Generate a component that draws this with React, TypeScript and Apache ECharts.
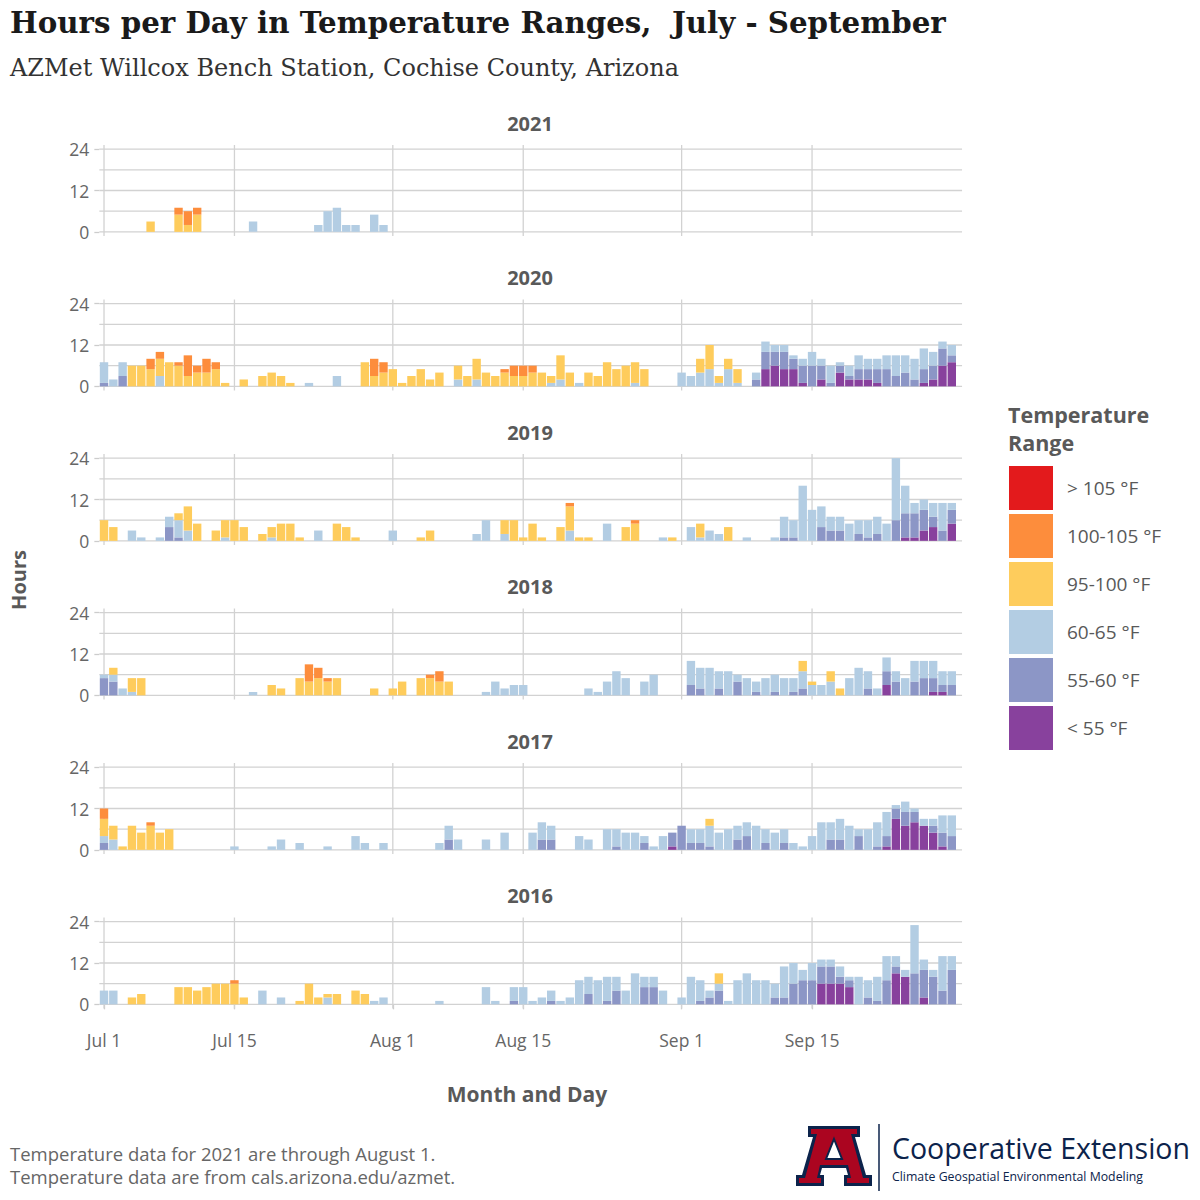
import { useEffect, useRef } from 'react';
import * as echarts from 'echarts';

// stacking order, bottom to top
const CATEGORIES = ['< 55 °F', '55-60 °F', '60-65 °F', '95-100 °F', '100-105 °F', '> 105 °F'];
const COLORS = ['#88419D', '#8C96C6', '#B3CDE3', '#FECC5C', '#FD8D3C', '#E31A1C'];

const YEARS = [2021, 2020, 2019, 2018, 2017, 2016];
const DAY_COUNT = 92; // Jul 1 .. Sep 30

const TICK_DAYS = [0, 14, 31, 45, 62, 76];
const TICK_LABELS = ['Jul 1', 'Jul 15', 'Aug 1', 'Aug 15', 'Sep 1', 'Sep 15'];
const HOUR_GRID = [0, 6, 12, 18, 24];
const HOUR_LABELS = [0, 12, 24];

// [day index, <55, 55-60, 60-65, 95-100, 100-105]
const rows2021 = [
  [5, 0, 0, 0, 3, 0], [8, 0, 0, 0, 5, 2], [9, 0, 0, 0, 2, 4], [10, 0, 0, 0, 5, 2],
  [16, 0, 0, 3, 0, 0], [23, 0, 0, 2, 0, 0], [24, 0, 0, 6, 0, 0], [25, 0, 0, 7, 0, 0],
  [26, 0, 0, 2, 0, 0], [27, 0, 0, 2, 0, 0], [29, 0, 0, 5, 0, 0], [30, 0, 0, 2, 0, 0],
];

const rows2020 = [
  [0, 0, 1, 6, 0, 0], [1, 0, 0, 2, 0, 0], [2, 0, 3, 4, 0, 0], [3, 0, 0, 0, 6, 0],
  [4, 0, 0, 0, 6, 0], [5, 0, 0, 0, 5, 3], [6, 0, 0, 3, 5, 2], [7, 0, 0, 0, 7, 0],
  [8, 0, 0, 0, 6, 1], [9, 0, 0, 0, 3, 6], [10, 0, 0, 0, 4, 2], [11, 0, 0, 0, 4, 4],
  [12, 0, 0, 0, 5, 2], [13, 0, 0, 0, 1, 0], [15, 0, 0, 0, 2, 0], [17, 0, 0, 0, 3, 0],
  [18, 0, 0, 0, 4, 0], [19, 0, 0, 0, 3, 0], [20, 0, 0, 0, 1, 0], [22, 0, 0, 1, 0, 0],
  [25, 0, 0, 3, 0, 0], [28, 0, 0, 0, 7, 0], [29, 0, 0, 0, 3, 5], [30, 0, 0, 0, 4, 3],
  [31, 0, 0, 0, 5, 0], [32, 0, 0, 0, 1, 0], [33, 0, 0, 0, 3, 0], [34, 0, 0, 0, 5, 0],
  [35, 0, 0, 0, 2, 0], [36, 0, 0, 0, 4, 0], [38, 0, 0, 2, 4, 0], [39, 0, 0, 0, 3, 0],
  [40, 0, 0, 2, 6, 0], [41, 0, 0, 0, 4, 0], [42, 0, 0, 0, 3, 0], [43, 0, 0, 0, 4, 1],
  [44, 0, 0, 0, 3, 3], [45, 0, 0, 0, 3, 3], [46, 0, 0, 0, 4, 2], [47, 0, 0, 0, 4, 0],
  [48, 0, 0, 1, 2, 0], [49, 0, 0, 2, 7, 0], [50, 0, 0, 0, 4, 0], [51, 0, 0, 1, 0, 0],
  [52, 0, 0, 0, 4, 0], [53, 0, 0, 0, 3, 0], [54, 0, 0, 0, 7, 0], [55, 0, 0, 0, 5, 0],
  [56, 0, 0, 0, 6, 0], [57, 0, 0, 1, 6, 0], [58, 0, 0, 0, 5, 0], [62, 0, 0, 4, 0, 0],
  [63, 0, 0, 3, 0, 0], [64, 0, 0, 4, 4, 0], [65, 0, 0, 5, 7, 0], [66, 0, 0, 1, 2, 0],
  [67, 0, 0, 5, 3, 0], [68, 0, 0, 1, 4, 0], [70, 0, 2, 2, 0, 0], [71, 5, 5, 3, 0, 0],
  [72, 6, 4, 2, 0, 0], [73, 5, 5, 2, 0, 0], [74, 5, 3, 1, 0, 0], [75, 1, 5, 2, 0, 0],
  [76, 0, 6, 4, 0, 0], [77, 2, 4, 2, 0, 0], [78, 0, 1, 5, 0, 0], [79, 4, 2, 1, 0, 0],
  [80, 2, 1, 3, 0, 0], [81, 2, 3, 4, 0, 0], [82, 2, 3, 3, 0, 0], [83, 1, 4, 3, 0, 0],
  [84, 0, 5, 4, 0, 0], [85, 0, 3, 6, 0, 0], [86, 0, 4, 5, 0, 0], [87, 0, 2, 6, 0, 0],
  [88, 1, 4, 6, 0, 0], [89, 2, 4, 4, 0, 0], [90, 6, 5, 2, 0, 0], [91, 7, 2, 3, 0, 0],
];

const rows2019 = [
  [0, 0, 0, 0, 6, 0], [1, 0, 0, 0, 4, 0], [3, 0, 0, 3, 0, 0], [4, 0, 0, 1, 0, 0],
  [6, 0, 0, 1, 0, 0], [7, 0, 4, 3, 0, 0], [8, 0, 1, 5, 2, 0], [9, 0, 0, 3, 7, 0],
  [10, 0, 0, 0, 5, 0], [12, 0, 0, 0, 3, 0], [13, 0, 0, 1, 5, 0], [14, 0, 0, 0, 6, 0],
  [15, 0, 0, 0, 4, 0], [17, 0, 0, 0, 2, 0], [18, 0, 0, 1, 3, 0], [19, 0, 0, 0, 5, 0],
  [20, 0, 0, 0, 5, 0], [21, 0, 0, 0, 1, 0], [23, 0, 0, 3, 0, 0], [25, 0, 0, 0, 5, 0],
  [26, 0, 0, 0, 4, 0], [27, 0, 0, 0, 1, 0], [31, 0, 0, 3, 0, 0], [34, 0, 0, 0, 1, 0],
  [35, 0, 0, 0, 3, 0], [40, 0, 0, 2, 0, 0], [41, 0, 0, 6, 0, 0], [43, 0, 0, 2, 4, 0],
  [44, 0, 0, 0, 6, 0], [45, 0, 0, 0, 1, 0], [46, 0, 0, 0, 5, 0], [47, 0, 0, 0, 1, 0],
  [49, 0, 0, 0, 4, 0], [50, 0, 0, 3, 7, 1], [51, 0, 0, 0, 1, 0], [52, 0, 0, 0, 1, 0],
  [54, 0, 0, 5, 0, 0], [56, 0, 0, 0, 4, 0], [57, 0, 0, 0, 5, 1], [60, 0, 0, 1, 0, 0],
  [61, 0, 0, 0, 1, 0], [63, 0, 0, 4, 0, 0], [64, 0, 0, 1, 4, 0], [65, 0, 0, 3, 0, 0],
  [66, 0, 0, 2, 0, 0], [67, 0, 0, 0, 4, 0], [69, 0, 0, 1, 0, 0], [72, 0, 0, 1, 0, 0],
  [73, 0, 1, 6, 0, 0], [74, 0, 1, 5, 0, 0], [75, 0, 0, 16, 0, 0], [76, 0, 0, 9, 0, 0],
  [77, 0, 4, 6, 0, 0], [78, 0, 3, 4, 0, 0], [79, 0, 3, 4, 0, 0], [80, 0, 0, 5, 0, 0],
  [81, 0, 2, 4, 0, 0], [82, 0, 1, 5, 0, 0], [83, 0, 2, 5, 0, 0], [84, 0, 0, 5, 0, 0],
  [85, 0, 6, 18, 0, 0], [86, 1, 7, 8, 0, 0], [87, 1, 7, 3, 0, 0], [88, 3, 6, 3, 0, 0],
  [89, 4, 3, 4, 0, 0], [90, 0, 3, 8, 0, 0], [91, 5, 4, 2, 0, 0],
];

const rows2018 = [
  [0, 0, 5, 1, 0, 0], [1, 0, 4, 2, 2, 0], [2, 0, 0, 2, 0, 0], [3, 0, 0, 1, 4, 0],
  [4, 0, 0, 0, 5, 0], [16, 0, 0, 1, 0, 0], [18, 0, 0, 0, 3, 0], [19, 0, 0, 0, 2, 0],
  [21, 0, 0, 0, 5, 0], [22, 0, 0, 0, 4, 5], [23, 0, 0, 0, 5, 3], [24, 0, 0, 0, 4, 1],
  [25, 0, 0, 0, 5, 0], [29, 0, 0, 0, 2, 0], [31, 0, 0, 0, 2, 0], [32, 0, 0, 0, 4, 0],
  [34, 0, 0, 0, 5, 0], [35, 0, 0, 0, 5, 1], [36, 0, 0, 0, 4, 3], [37, 0, 0, 0, 4, 0],
  [41, 0, 0, 1, 0, 0], [42, 0, 0, 4, 0, 0], [43, 0, 0, 2, 0, 0], [44, 0, 0, 3, 0, 0],
  [45, 0, 0, 3, 0, 0], [52, 0, 0, 2, 0, 0], [53, 0, 0, 1, 0, 0], [54, 0, 0, 4, 0, 0],
  [55, 0, 0, 7, 0, 0], [56, 0, 0, 5, 0, 0], [58, 0, 0, 4, 0, 0], [59, 0, 0, 6, 0, 0],
  [63, 0, 3, 7, 0, 0], [64, 0, 2, 6, 0, 0], [65, 0, 0, 8, 0, 0], [66, 0, 2, 5, 0, 0],
  [67, 0, 0, 7, 0, 0], [68, 0, 4, 2, 0, 0], [69, 0, 0, 5, 0, 0], [70, 0, 1, 3, 0, 0],
  [71, 0, 0, 5, 0, 0], [72, 0, 1, 5, 0, 0], [73, 0, 0, 5, 0, 0], [74, 0, 1, 4, 0, 0],
  [75, 0, 2, 5, 3, 0], [76, 0, 0, 3, 1, 0], [77, 0, 0, 3, 0, 0], [78, 0, 0, 4, 3, 0],
  [79, 0, 0, 0, 2, 0], [80, 0, 0, 5, 0, 0], [81, 0, 0, 8, 0, 0], [82, 0, 2, 5, 0, 0],
  [83, 0, 0, 2, 0, 0], [84, 3, 4, 4, 0, 0], [85, 0, 4, 3, 0, 0], [86, 0, 0, 5, 0, 0],
  [87, 0, 4, 6, 0, 0], [88, 0, 5, 5, 0, 0], [89, 1, 4, 5, 0, 0], [90, 1, 2, 4, 0, 0],
  [91, 0, 3, 4, 0, 0],
];

const rows2017 = [
  [0, 0, 2, 2, 5, 3], [1, 0, 0, 3, 4, 0], [2, 0, 0, 0, 1, 0], [3, 0, 0, 0, 7, 0],
  [4, 0, 0, 0, 5, 0], [5, 0, 0, 0, 7, 1], [6, 0, 0, 0, 5, 0], [7, 0, 0, 0, 6, 0],
  [14, 0, 0, 1, 0, 0], [18, 0, 0, 1, 0, 0], [19, 0, 0, 3, 0, 0], [21, 0, 0, 2, 0, 0],
  [24, 0, 0, 1, 0, 0], [27, 0, 0, 4, 0, 0], [28, 0, 0, 2, 0, 0], [30, 0, 0, 2, 0, 0],
  [36, 0, 0, 2, 0, 0], [37, 0, 3, 4, 0, 0], [38, 0, 0, 3, 0, 0], [41, 0, 0, 3, 0, 0],
  [43, 0, 0, 5, 0, 0], [46, 0, 0, 5, 0, 0], [47, 0, 3, 5, 0, 0], [48, 0, 3, 4, 0, 0],
  [51, 0, 0, 4, 0, 0], [52, 0, 0, 3, 0, 0], [54, 0, 0, 6, 0, 0], [55, 0, 1, 5, 0, 0],
  [56, 0, 0, 5, 0, 0], [57, 0, 0, 5, 0, 0], [58, 0, 2, 2, 0, 0], [59, 0, 0, 1, 0, 0],
  [60, 0, 0, 4, 0, 0], [61, 1, 4, 0, 0, 0], [62, 0, 7, 0, 0, 0], [63, 0, 2, 4, 0, 0],
  [64, 0, 2, 4, 0, 0], [65, 0, 1, 6, 2, 0], [66, 0, 0, 5, 0, 0], [67, 0, 0, 6, 0, 0],
  [68, 0, 3, 4, 0, 0], [69, 0, 4, 4, 0, 0], [70, 0, 0, 7, 0, 0], [71, 0, 2, 4, 0, 0],
  [72, 0, 0, 5, 0, 0], [73, 0, 2, 4, 0, 0], [74, 0, 0, 2, 0, 0], [75, 0, 0, 1, 0, 0],
  [76, 0, 0, 4, 0, 0], [77, 0, 0, 8, 0, 0], [78, 0, 3, 5, 0, 0], [79, 0, 3, 6, 0, 0],
  [80, 0, 0, 7, 0, 0], [81, 0, 4, 2, 0, 0], [82, 0, 0, 6, 0, 0], [83, 0, 1, 7, 0, 0],
  [84, 1, 3, 7, 0, 0], [85, 9, 3, 1, 0, 0], [86, 7, 4, 3, 0, 0], [87, 8, 3, 1, 0, 0],
  [88, 7, 0, 2, 0, 0], [89, 5, 2, 2, 0, 0], [90, 1, 4, 5, 0, 0], [91, 0, 4, 6, 0, 0],
];

const rows2016 = [
  [0, 0, 0, 4, 0, 0], [1, 0, 0, 4, 0, 0], [3, 0, 0, 0, 2, 0], [4, 0, 0, 0, 3, 0],
  [8, 0, 0, 0, 5, 0], [9, 0, 0, 0, 5, 0], [10, 0, 0, 0, 4, 0], [11, 0, 0, 0, 5, 0],
  [12, 0, 0, 0, 6, 0], [13, 0, 0, 0, 6, 0], [14, 0, 0, 0, 6, 1], [15, 0, 0, 0, 2, 0],
  [17, 0, 0, 4, 0, 0], [19, 0, 0, 2, 0, 0], [21, 0, 0, 0, 1, 0], [22, 0, 0, 0, 6, 0],
  [23, 0, 0, 0, 2, 0], [24, 0, 0, 2, 1, 0], [25, 0, 0, 0, 3, 0], [27, 0, 0, 0, 4, 0],
  [28, 0, 0, 0, 3, 0], [29, 0, 0, 1, 0, 0], [30, 0, 0, 2, 0, 0], [36, 0, 0, 1, 0, 0],
  [41, 0, 0, 5, 0, 0], [42, 0, 0, 1, 0, 0], [44, 0, 1, 4, 0, 0], [45, 0, 0, 5, 0, 0],
  [46, 0, 0, 1, 0, 0], [47, 0, 0, 2, 0, 0], [48, 0, 1, 3, 0, 0], [49, 0, 0, 1, 0, 0],
  [50, 0, 0, 2, 0, 0], [51, 0, 0, 7, 0, 0], [52, 0, 3, 5, 0, 0], [53, 0, 0, 7, 0, 0],
  [54, 0, 1, 7, 0, 0], [55, 0, 4, 4, 0, 0], [56, 0, 0, 4, 0, 0], [57, 0, 0, 9, 0, 0],
  [58, 0, 5, 3, 0, 0], [59, 0, 5, 3, 0, 0], [60, 0, 0, 4, 0, 0], [62, 0, 0, 2, 0, 0],
  [63, 0, 0, 8, 0, 0], [64, 0, 1, 6, 0, 0], [65, 0, 2, 2, 0, 0], [66, 0, 4, 2, 3, 0],
  [67, 0, 0, 1, 0, 0], [68, 0, 0, 7, 0, 0], [69, 0, 0, 9, 0, 0], [70, 0, 0, 7, 0, 0],
  [71, 0, 0, 7, 0, 0], [72, 0, 2, 4, 0, 0], [73, 0, 2, 9, 0, 0], [74, 0, 6, 6, 0, 0],
  [75, 0, 7, 3, 0, 0], [76, 0, 7, 5, 0, 0], [77, 6, 5, 2, 0, 0], [78, 6, 5, 2, 0, 0],
  [79, 6, 2, 3, 0, 0], [80, 5, 2, 1, 0, 0], [81, 0, 0, 8, 0, 0], [82, 0, 2, 5, 0, 0],
  [83, 0, 1, 7, 0, 0], [84, 0, 7, 7, 0, 0], [85, 9, 2, 3, 0, 0], [86, 8, 0, 2, 0, 0],
  [87, 0, 9, 14, 0, 0], [88, 2, 8, 3, 0, 0], [89, 0, 8, 2, 0, 0], [90, 0, 4, 10, 0, 0],
  [91, 0, 10, 4, 0, 0],
];

const ROWS_BY_YEAR = [rows2021, rows2020, rows2019, rows2018, rows2017, rows2016];

const DAYS = Array.from({ length: DAY_COUNT }, (_, d) => String(d));

const Y_MIN = -1.2;
const Y_MAX = 25.2;

const FONT = '"Open Sans", "Noto Sans", sans-serif';
const GREY = '#595959';
const NAVY = '#0C234B';

const GRID_LEFT = 99.35;
const GRID_WIDTH = 857.1;
const GRID_RIGHT_EXTRA = 5.6; // panel background runs a little past Sep 30
const GRID_TOP0 = 145;
const GRID_STEP = 154.5;
const GRID_HEIGHT = 91;
const GRID_COLOR = '#d2d2d2';

function seriesData(rows: number[][], cat: number) {
  const byDay = new Map(rows.map(r => [r[0], r]));
  return DAYS.map((_, d) => {
    const r = byDay.get(d);
    return r && cat < 5 ? r[cat + 1] : 0;
  });
}

export default function App() {
  const chartRef = useRef<HTMLDivElement>(null);

  useEffect(() => {
    if (!chartRef.current) return;
    document.body.style.margin = '0';
    const chart = echarts.init(chartRef.current, null, { renderer: 'svg' });

    const last = YEARS.length - 1;
    const isTickDay = (i: number) => TICK_DAYS.includes(i);

    const grid = YEARS.map((_, p) => ({
      left: GRID_LEFT,
      width: GRID_WIDTH,
      top: GRID_TOP0 + GRID_STEP * p,
      height: GRID_HEIGHT,
    }));

    const xAxis = YEARS.map((_, p) => ({
      type: 'category',
      gridIndex: p,
      data: DAYS,
      boundaryGap: true,
      axisLine: { show: false },
      splitLine: { show: false },
      axisTick: {
        show: p === last,
        interval: (i: number) => isTickDay(i),
        alignWithLabel: true,
        length: 5,
        lineStyle: { color: '#cccccc', width: 1.3 },
      },
      axisLabel: {
        show: p === last,
        interval: (i: number) => isTickDay(i),
        margin: 22,
        fontSize: 17.5,
        fontFamily: FONT,
        color: '#666666',
        formatter: (_v: string, i: number) => {
          const k = TICK_DAYS.indexOf(i);
          return k >= 0 ? TICK_LABELS[k] : '';
        },
      },
    }));

    const yAxis = YEARS.map((_, p) => ({
      type: 'value',
      gridIndex: p,
      min: Y_MIN,
      max: Y_MAX,
      axisLine: { show: false },
      splitLine: { show: false },
      axisTick: {
        show: true,
        customValues: HOUR_LABELS,
        length: 5,
        lineStyle: { color: '#cccccc', width: 1.3 },
      },
      axisLabel: {
        customValues: HOUR_LABELS,
        margin: 10,
        fontSize: 17.5,
        fontFamily: FONT,
        color: '#666666',
      },
    }));

    const series: any[] = [];
    YEARS.forEach((_, p) => {
      // panel gridlines, drawn under the bars
      series.push({
        type: 'custom',
        xAxisIndex: p,
        yAxisIndex: p,
        z: 1,
        silent: true,
        clip: false,
        data: [[0, 0]],
        renderItem: (params: any, api: any) => {
          const cs = params.coordSys;
          const children: any[] = [];
          HOUR_GRID.forEach(h => {
            const y = api.coord([0, h])[1];
            children.push({
              type: 'line',
              shape: { x1: cs.x, y1: y, x2: cs.x + cs.width + GRID_RIGHT_EXTRA, y2: y },
              style: { stroke: GRID_COLOR, lineWidth: 1.3 },
            });
          });
          TICK_DAYS.forEach(d => {
            const x = api.coord([d, 0])[0];
            children.push({
              type: 'line',
              shape: { x1: x, y1: cs.y, x2: x, y2: cs.y + cs.height },
              style: { stroke: GRID_COLOR, lineWidth: 1.3 },
            });
          });
          return { type: 'group', children };
        },
      });
      CATEGORIES.forEach((name, c) => {
        series.push({
          type: 'bar',
          name,
          xAxisIndex: p,
          yAxisIndex: p,
          stack: `panel${p}`,
          barWidth: 8.4,
          z: 2,
          itemStyle: { color: COLORS[c] },
          emphasis: { disabled: true },
          data: seriesData(ROWS_BY_YEAR[p], c),
        });
      });
    });

    const stripLabels = YEARS.map((y, p) => ({
      type: 'text',
      x: 530,
      y: GRID_TOP0 + GRID_STEP * p - 22,
      style: {
        text: String(y),
        font: `bold 20px ${FONT}`,
        fill: GREY,
        textAlign: 'center',
        textVerticalAlign: 'middle',
      },
    }));

    const option: any = {
      animation: false,
      backgroundColor: '#ffffff',
      grid,
      xAxis,
      yAxis,
      series,
      legend: {
        orient: 'vertical',
        left: 1009,
        top: 466,
        padding: 0,
        itemWidth: 44,
        itemHeight: 44,
        itemGap: 4,
        icon: 'rect',
        selectedMode: false,
        data: [...CATEGORIES].reverse(),
        textStyle: {
          fontSize: 19,
          fontFamily: FONT,
          color: GREY,
          padding: [0, 0, 0, 9],
        },
      },
      graphic: [
        {
          type: 'text',
          x: 10,
          y: 22,
          style: {
            text: 'Hours per Day in Temperature Ranges,  July - September',
            font: 'bold 29.3px "DejaVu Serif", serif',
            fill: '#1a1a1a',
            textVerticalAlign: 'middle',
          },
        },
        {
          type: 'text',
          x: 10,
          y: 68,
          style: {
            text: 'AZMet Willcox Bench Station, Cochise County, Arizona',
            font: '24px "DejaVu Serif", serif',
            fill: '#333333',
            textVerticalAlign: 'middle',
          },
        },
        ...stripLabels,
        {
          type: 'text',
          x: 18,
          y: 580,
          rotation: Math.PI / 2,
          style: {
            text: 'Hours',
            font: `bold 20px ${FONT}`,
            fill: GREY,
            textAlign: 'center',
            textVerticalAlign: 'middle',
          },
        },
        {
          type: 'text',
          x: 527,
          y: 1094,
          style: {
            text: 'Month and Day',
            font: `bold 21px ${FONT}`,
            fill: GREY,
            textAlign: 'center',
            textVerticalAlign: 'middle',
          },
        },
        {
          type: 'text',
          x: 1008,
          y: 414,
          style: { text: 'Temperature', font: `bold 21.5px ${FONT}`, fill: GREY, textVerticalAlign: 'middle' },
        },
        {
          type: 'text',
          x: 1008,
          y: 442,
          style: { text: 'Range', font: `bold 21.5px ${FONT}`, fill: GREY, textVerticalAlign: 'middle' },
        },
        {
          type: 'text',
          x: 10,
          y: 1153,
          style: {
            text: 'Temperature data for 2021 are through August 1.',
            font: `18.5px ${FONT}`,
            fill: '#666666',
            textVerticalAlign: 'middle',
          },
        },
        {
          type: 'text',
          x: 10,
          y: 1176,
          style: {
            text: 'Temperature data are from cals.arizona.edu/azmet.',
            font: `18.5px ${FONT}`,
            fill: '#666666',
            textVerticalAlign: 'middle',
          },
        },
        // University block "A"
        {
          type: 'group',
          x: 796,
          y: 1126,
          children: [
            {
              type: 'polygon',
              shape: {
                points: [[12, 0], [64, 0], [64, 11], [59, 11], [70, 49], [76, 49], [76, 60], [48, 60], [48, 49], [52, 49], [50, 42], [26, 42], [24, 49], [28, 49], [28, 60], [0, 60], [0, 49], [6, 49], [17, 11], [12, 11]],
              },
              style: { fill: NAVY },
            },
            {
              type: 'polygon',
              shape: {
                points: [[15, 3], [61, 3], [61, 8], [55, 8], [67, 52], [73, 52], [73, 57], [51, 57], [51, 52], [55, 52], [52, 39], [24, 39], [21, 52], [25, 52], [25, 57], [3, 57], [3, 52], [9, 52], [21, 8], [15, 8]],
              },
              style: { fill: '#AB0520' },
            },
            {
              type: 'polygon',
              shape: { points: [[38, 13], [46, 33], [30, 33]] },
              style: { fill: '#ffffff', stroke: NAVY, lineWidth: 2 },
            },
          ],
        },
        {
          type: 'line',
          shape: { x1: 879, y1: 1124, x2: 879, y2: 1191 },
          style: { stroke: NAVY, lineWidth: 1.5 },
        },
        {
          type: 'text',
          x: 892,
          y: 1148,
          style: { text: 'Cooperative Extension', font: `28.5px ${FONT}`, fill: NAVY, textVerticalAlign: 'middle' },
        },
        {
          type: 'text',
          x: 892,
          y: 1176,
          style: {
            text: 'Climate Geospatial Environmental Modeling',
            font: `12.3px ${FONT}`,
            fill: NAVY,
            textVerticalAlign: 'middle',
          },
        },
      ],
    };

    chart.setOption(option);

    return () => {
      chart.dispose();
    };
  }, []);

  return <div ref={chartRef} style={{ width: 1200, height: 1200 }} />;
}
